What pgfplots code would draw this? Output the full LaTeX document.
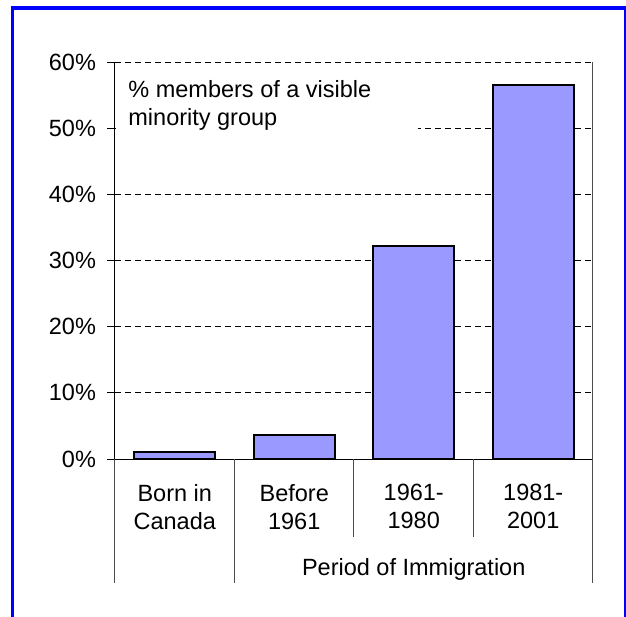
\documentclass[border=0pt]{standalone}
\usepackage{pgfplots}
\pgfplotsset{compat=1.18}
\usepackage{fontspec}
\setmainfont{Liberation Sans}
\definecolor{barfill}{HTML}{9999FF}
\definecolor{framecol}{HTML}{0000FF}
\newcommand{\chartfont}{\fontsize{11.75}{14}\selectfont}

\begin{document}
\begin{tikzpicture}[font=\chartfont]
\clip (0,0) rectangle (313pt,308pt);
% blue frame round the chart
\draw[framecol, line width=1.6pt] (6.25pt,-10pt) -- (6.25pt,304pt) -- (312.6pt,304pt) -- (312.6pt,-10pt);
\begin{axis}[
    at={(57.5pt,78.5pt)}, anchor=south west,
    scale only axis, width=239pt, height=198.5pt,
    ymin=0, ymax=60, ytick={0,10,...,60},
    xmin=-0.5, xmax=3.5, xtick=data,
    xticklabels={{Born in\\Canada},{Before\\1961},{1961-\\1980},{1981-\\2001}},
    axis x line=bottom, axis y line=left,
    axis line style={-, black, line width=0.5pt},
    ymajorgrids, grid style={black, line width=0.5pt, dash pattern=on 3pt off 2pt},
    ytick style={black, line width=0.5pt}, tick align=outside, major tick length=4pt,
    xtick style={draw=none},
    yticklabel={\pgfmathprintnumber{\tick}\%},
    /pgf/number format/assume math mode=true,
    tick label style={font=\chartfont},
    xticklabel style={align=center, anchor=north, yshift=-5pt},
    yticklabel style={anchor=east, xshift=-2pt},
    clip=false,
]
\addplot[ybar, fill=barfill, draw=black, line width=1pt, bar width=0.68]
    coordinates {(0,1.0)(1,3.6)(2,32.2)(3,56.5)};
\draw[gray!60!black, line width=0.5pt] (rel axis cs:1,0) -- (rel axis cs:1,1);
% category separators below the axis
\draw[gray!60!black, line width=0.5pt] (axis cs:-0.5,0) -- ([yshift=-62pt]axis cs:-0.5,0);
\draw[gray!60!black, line width=0.5pt] (axis cs:0.5,0) -- ([yshift=-62pt]axis cs:0.5,0);
\draw[gray!60!black, line width=0.5pt] (axis cs:1.5,0) -- ([yshift=-39pt]axis cs:1.5,0);
\draw[gray!60!black, line width=0.5pt] (axis cs:2.5,0) -- ([yshift=-39pt]axis cs:2.5,0);
\draw[gray!60!black, line width=0.5pt] (axis cs:3.5,0) -- ([yshift=-62pt]axis cs:3.5,0);
\node[anchor=base, inner sep=0pt, yshift=-58pt] at (axis cs:2,0) {Period of Immigration};
% white text box over the grid
\fill[white] ([xshift=0.6pt,yshift=-4pt]rel axis cs:0,1) rectangle ([xshift=151.5pt,yshift=-41.5pt]rel axis cs:0,1);
\node[anchor=base west, inner sep=0pt, align=left, xshift=6.5pt, yshift=-31.5pt]
    at (rel axis cs:0,1) {\% members of a visible\\minority group};
\end{axis}
\end{tikzpicture}
\end{document}
